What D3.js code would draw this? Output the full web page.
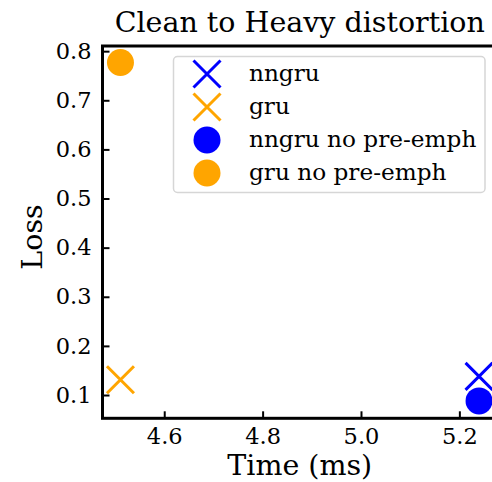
<!DOCTYPE html>
<html>
<head>
<meta charset="utf-8">
<script src="https://cdn.jsdelivr.net/npm/d3@7"></script>
<style>
  html, body { margin: 0; padding: 0; background: #fff; }
  svg { display: block; font-family: "DejaVu Serif", serif; }
</style>
</head>
<body>
<svg id="chart" width="492" height="482"></svg>
<script>
// Inference time vs loss for each model variant
const seriesNames = ["nngru", "gru", "nngru no pre-emph", "gru no pre-emph"];
const seriesColors = ["#0000ff", "#ffa500", "#0000ff", "#ffa500"];
const seriesShapes = ["x", "x", "o", "o"];
const timeMs = [5.240, 4.511, 5.240, 4.511];
const lossValues = [0.138, 0.131, 0.088, 0.777];

const xTicks = [4.6, 4.8, 5.0, 5.2];
const yTicks = [0.1, 0.2, 0.3, 0.4, 0.5, 0.6, 0.7, 0.8];

const svg = d3.select("#chart");
const margin = { left: 102.5, top: 46, right: 497, bottom: 418.3 };

const x = d3.scaleLinear().domain([4.4745, 5.2765]).range([margin.left, margin.right]);
const y = d3.scaleLinear().domain([0.0526, 0.8105]).range([margin.bottom, margin.top]);

// Title
svg.append("text")
  .attr("x", (margin.left + margin.right) / 2)
  .attr("y", 32)
  .attr("text-anchor", "middle")
  .attr("font-size", 28.5)
  .text("Clean to Heavy distortion");

// Axes with inward ticks
const xAxis = d3.axisBottom(x).tickValues(xTicks).tickFormat(d3.format(".1f"))
  .tickSizeInner(-7).tickSizeOuter(0).tickPadding(10);
const yAxis = d3.axisLeft(y).tickValues(yTicks).tickFormat(d3.format(".1f"))
  .tickSizeInner(-7).tickSizeOuter(0).tickPadding(11);

const gx = svg.append("g").attr("transform", `translate(0,${margin.bottom})`).call(xAxis);
const gy = svg.append("g").attr("transform", `translate(${margin.left},0)`).call(yAxis);

[gx, gy].forEach(g => {
  g.selectAll(".tick line").attr("stroke", "#000").attr("stroke-width", 2);
  g.selectAll(".tick text").attr("font-size", 22.5).attr("fill", "#000")
    .attr("font-family", "DejaVu Serif, serif");
  g.select(".domain").remove();
});

// Frame
svg.append("rect")
  .attr("x", margin.left).attr("y", margin.top)
  .attr("width", margin.right - margin.left).attr("height", margin.bottom - margin.top)
  .attr("fill", "none").attr("stroke", "#000").attr("stroke-width", 3);

// Axis labels
svg.append("text")
  .attr("x", (margin.left + margin.right) / 2)
  .attr("y", 475)
  .attr("text-anchor", "middle")
  .attr("font-size", 28.5)
  .text("Time (ms)");

svg.append("text")
  .attr("transform", `translate(42,237) rotate(-90)`)
  .attr("text-anchor", "middle")
  .attr("font-size", 28.5)
  .text("Loss");

// Marker drawing
const markerR = 13.5;
function drawMarker(g, shape, color, cx, cy) {
  if (shape === "o") {
    g.append("circle").attr("cx", cx).attr("cy", cy).attr("r", markerR).attr("fill", color);
  } else {
    const s = markerR;
    g.append("path")
      .attr("d", `M${cx - s},${cy - s}L${cx + s},${cy + s}M${cx - s},${cy + s}L${cx + s},${cy - s}`)
      .attr("stroke", color).attr("stroke-width", 3).attr("fill", "none");
  }
}

const points = svg.append("g");
seriesNames.forEach((name, i) => {
  drawMarker(points, seriesShapes[i], seriesColors[i], x(timeMs[i]), y(lossValues[i]));
});

// Legend
const legend = svg.append("g");
const lx = 173.5, ly = 56.5, lw = 311.5, lh = 136;
legend.append("rect")
  .attr("x", lx).attr("y", ly).attr("width", lw).attr("height", lh)
  .attr("rx", 4).attr("fill", "#fff").attr("fill-opacity", 0.8)
  .attr("stroke", "#d6d6d6").attr("stroke-width", 1.5);
seriesNames.forEach((name, i) => {
  const ry = ly + 17.5 + i * 33;
  drawMarker(legend, seriesShapes[i], seriesColors[i], 207, ry);
  legend.append("text")
    .attr("x", 249).attr("y", ry + 7)
    .attr("font-size", 23.2)
    .text(name);
});
</script>
</body>
</html>
